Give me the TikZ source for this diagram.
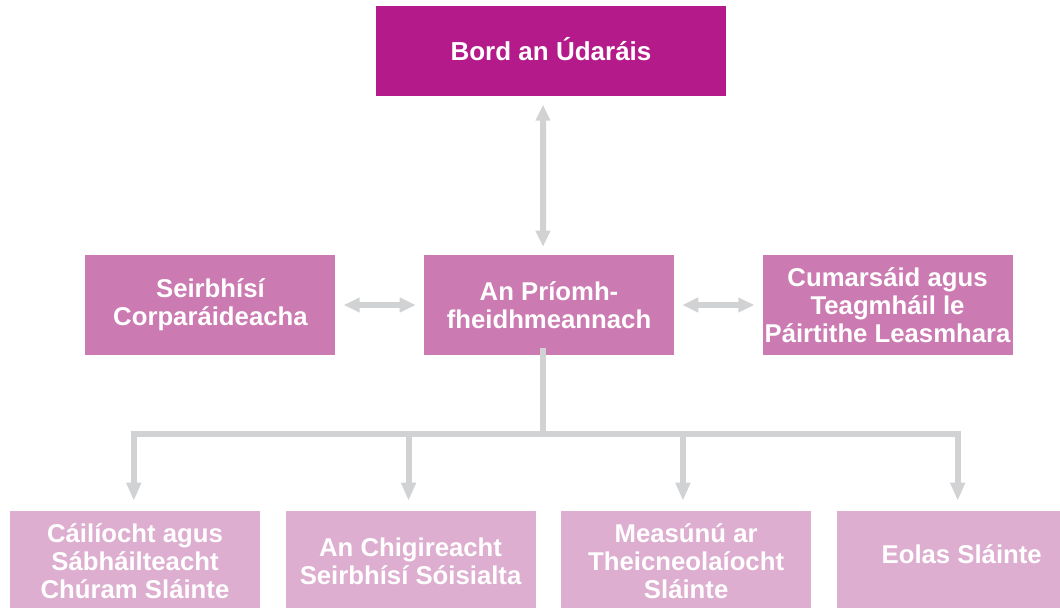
\documentclass[tikz,border=0pt]{standalone}
\usepackage{fontspec}
\setmainfont{Liberation Sans}
\usetikzlibrary{positioning,arrows.meta}

\definecolor{boardpink}{HTML}{B41A8A}
\definecolor{midpink}{HTML}{CB7BB2}
\definecolor{lowpink}{HTML}{DDAED0}
\definecolor{linkgray}{HTML}{D1D2D4}

\begin{document}
\begin{tikzpicture}[node distance=2.2cm,
    unit/.style={rectangle,inner sep=0pt,minimum width=6.25cm,minimum height=2.5cm,
        text=white,align=center,font=\bfseries\fontsize{18.3}{20}\selectfont},
    link/.style={draw=linkgray,line width=0.15cm},
    twoway/.style={link,{Triangle[length=0.4cm,width=0.35cm]}-{Triangle[length=0.4cm,width=0.35cm]},
        shorten <=0.2cm,shorten >=0.2cm},
    oneway/.style={link,-{Triangle[length=0.45cm,width=0.35cm]},shorten >=0.25cm}]
    \useasboundingbox (0,0) rectangle (26.5,-15.175);
    \node[unit] (ceo) [fill=midpink] at (13.725,-7.625) {An Príomh-\\fheidhmeannach};
    \node[unit] (board) [fill=boardpink, minimum width=8.75cm, minimum height=2.25cm,
        font=\bfseries\fontsize{18.5}{22}\selectfont, above=3.95cm of ceo, xshift=0.05cm]
        {\raisebox{0.12cm}{Bord an Údaráis}};
    \node[unit] (corp) [fill=midpink, left=of ceo] {Seirbhísí\\Corparáideacha};
    \node[unit] (comms) [fill=midpink, right=of ceo] {Cumarsáid agus\\Teagmháil le\\Páirtithe Leasmhara};
    \node[unit] (qual) [fill=lowpink] at (3.375,-14.025) {Cáilíocht agus\\Sábháilteacht\\Chúram Sláinte};
    \node[unit] (insp) [fill=lowpink, right=0.625cm of qual] {An Chigireacht\\Seirbhísí Sóisialta};
    \node[unit] (hta) [fill=lowpink, right=0.625cm of insp] {Measúnú ar\\Theicneolaíocht\\Sláinte};
    \node[unit] (info) [fill=lowpink, right=0.625cm of hta] {\raisebox{0.35cm}{Eolas Sláinte}};
    \path
    ([xshift=-0.2cm]board.south) edge[twoway] ([xshift=-0.15cm]ceo.north)
    (corp) edge[twoway] (ceo)
    (ceo) edge[twoway] (comms);
    \draw[link] ([xshift=-0.15cm,yshift=0.18cm]ceo.south) -- ++(0,-2.155) coordinate (bus);
    \draw[oneway] (bus) -| ([xshift=-0.03cm]qual.north);
    \draw[oneway] (bus) -| ([xshift=-0.05cm]insp.north);
    \draw[oneway] (bus) -| ([xshift=-0.08cm]hta.north);
    \draw[oneway] (bus) -| ([xshift=-0.1cm]info.north);
\end{tikzpicture}
\end{document}
